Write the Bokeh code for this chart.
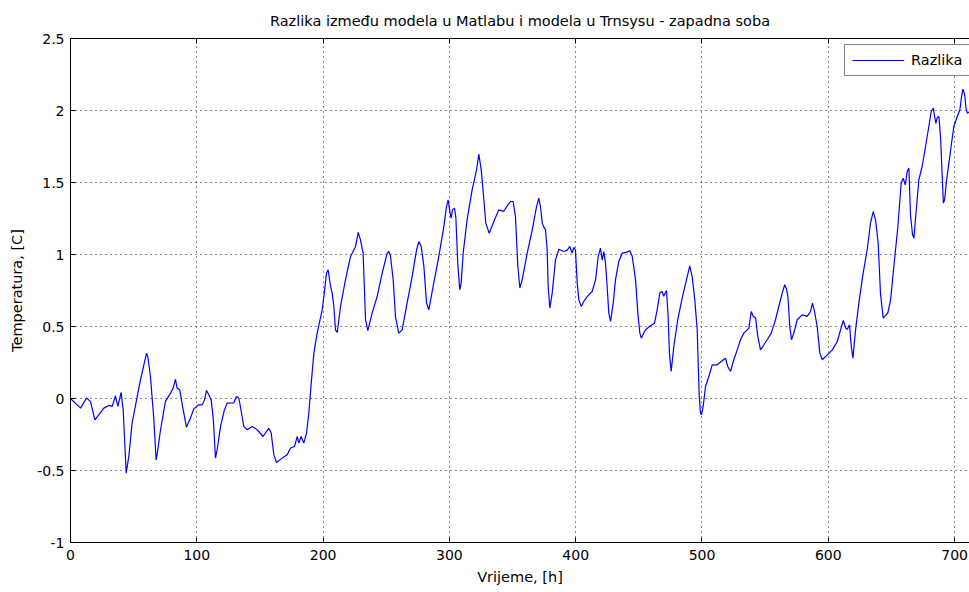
from bokeh.plotting import figure
from bokeh.models import (LinearAxis, FixedTicker, Legend, LegendItem, Range1d,
                          CustomJSTickFormatter)
from bokeh.embed import file_html
from bokeh.resources import INLINE

# Temperature difference between the Matlab and the Trnsys model (west room)
hours = [
    0, 7.9, 12.7, 15.8, 19.3, 26.4, 30.3, 33.0, 35.6, 37.5, 40.1, 41.7, 44.1, 46.2,
    48.8, 52.3, 55.4, 60.2, 61.2, 63.3, 66.0, 67.8, 68.6, 71.3, 75.2, 79.2, 81.3,
    83.1, 84.4, 86.5, 89.2, 91.8, 95.0, 97.6, 101.6, 104.2, 106.1, 107.7, 109.5,
    111.4, 113.0, 114.8, 116.1, 118.8, 121.9, 124.0, 129.3, 131.4, 133.3, 135.9,
    137.2, 139.9, 143.9, 147.8, 152.5, 157.0, 158.9, 161.0, 163.1, 167.6, 171.6,
    174.2, 177.4, 179.5, 180.8, 182.6, 184.7, 186.9, 188.7, 190.6, 192.7, 195.3,
    199.3, 200.6, 202.7, 204.0, 205.9, 207.2, 208.5, 209.8, 211.2, 213.8, 217.7,
    221.7, 225.7, 227.8, 229.6, 231.7, 233.6, 235.4, 238.8, 242.8, 246.8, 250.7,
    252.0, 253.4, 255.5, 257.3, 259.9, 262.6, 266.5, 270.5, 274.0, 275.8, 277.7,
    279.8, 281.9, 283.7, 287.6, 291.6, 295.6, 297.7, 299.0, 300.3, 301.4, 302.4,
    304.0, 305.1, 306.6, 308.2, 309.3, 310.9, 314.0, 318.0, 321.5, 323.3, 325.2,
    327.3, 328.8, 331.5, 335.2, 339.1, 343.1, 346.3, 348.4, 350.5, 352.3, 354.2,
    355.8, 357.6, 361.6, 365.6, 369.0, 370.8, 372.1, 373.5, 374.8, 376.1, 377.4,
    378.2, 379.5, 381.4, 384.0, 386.7, 390.6, 393.3, 395.3, 397.2, 398.5, 399.8,
    401.2, 402.5, 404.4, 406.4, 409.1, 413.0, 415.7, 417.8, 419.6, 421.0, 422.3,
    423.6, 424.9, 426.2, 427.6, 429.7, 431.5, 434.1, 436.8, 440.8, 442.8, 444.7,
    447.4, 449.2, 450.8, 451.9, 455.3, 459.2, 462.4, 464.5, 466.6, 468.4, 469.7,
    471.9, 473.2, 474.2, 475.6, 477.7, 480.8, 484.3, 487.7, 490.3, 492.2, 494.3,
    496.2, 497.7, 498.8, 499.6, 500.9, 502.8, 505.4, 508.1, 512.0, 515.2, 518.6,
    520.4, 522.6, 525.2, 527.9, 530.5, 533.1, 537.1, 539.0, 540.6, 542.4, 544.2,
    546.3, 549.0, 551.6, 554.8, 558.2, 560.8, 563.5, 565.5, 566.9, 568.0, 569.5,
    570.9, 572.7, 575.4, 579.3, 583.3, 585.9, 587.5, 589.1, 591.2, 593.3, 595.2,
    599.2, 603.2, 607.1, 609.7, 611.9, 613.7, 615.0, 616.8, 618.2, 619.5, 621.6,
    624.2, 627.6, 630.8, 633.4, 635.6, 637.4, 639.5, 641.3, 643.5, 647.1, 649.3,
    651.9, 655.1, 657.7, 659.3, 660.9, 662.5, 663.8, 665.1, 666.7, 667.8, 669.0,
    671.7, 674.3, 677.0, 679.6, 681.5, 683.1, 684.2, 685.2, 686.2, 687.6, 688.9,
    690.2, 691.1, 692.1, 693.7, 695.5, 697.4, 699.4, 702.1, 704.2, 705.6, 706.6,
    708.0, 709.0, 710.2, 711.5, 713.0,
]
diff = [
    0.0, -0.067, 0.003, -0.02, -0.148, -0.067, -0.048, -0.055, 0.019, -0.055, 0.042,
    -0.078, -0.518, -0.40, -0.17, -0.01, 0.13, 0.315, 0.29, 0.153, -0.148, -0.426,
    -0.39, -0.217, -0.02, 0.037, 0.072, 0.135, 0.072, 0.06, -0.078, -0.199, -0.136,
    -0.072, -0.044, -0.044, -0.01, 0.056, 0.026, -0.01, -0.136, -0.414, -0.356,
    -0.194, -0.078, -0.032, -0.03, 0.014, 0.003, -0.125, -0.194, -0.217, -0.194,
    -0.217, -0.264, -0.206, -0.24, -0.39, -0.444, -0.414, -0.39, -0.344, -0.333,
    -0.264, -0.31, -0.264, -0.31, -0.24, -0.101, 0.107, 0.315, 0.454, 0.616, 0.708,
    0.871, 0.894, 0.778, 0.732, 0.639, 0.477, 0.458, 0.639, 0.824, 0.986, 1.056,
    1.153, 1.102, 1.009, 0.547, 0.472, 0.593, 0.708, 0.871, 1.009, 1.021, 0.986,
    0.824, 0.569, 0.454, 0.477, 0.662, 0.847, 1.033, 1.09, 1.056, 0.917, 0.662,
    0.616, 0.801, 0.986, 1.194, 1.333, 1.38, 1.299, 1.252, 1.31, 1.322, 1.26, 0.94,
    0.755, 0.801, 1.009, 1.24, 1.449, 1.588, 1.697, 1.588, 1.38, 1.218, 1.148,
    1.229, 1.31, 1.30, 1.345, 1.368, 1.368, 1.264, 0.917, 0.767, 0.824, 1.009,
    1.171, 1.333, 1.392, 1.333, 1.218, 1.19, 1.171, 1.033, 0.778, 0.628, 0.732,
    0.963, 1.037, 1.021, 1.03, 1.056, 1.01, 1.05, 1.03, 0.801, 0.685, 0.639, 0.674,
    0.708, 0.743, 0.824, 0.986, 1.044, 0.96, 1.02, 0.94, 0.778, 0.593, 0.535,
    0.662, 0.824, 0.951, 1.009, 1.016, 1.028, 0.99, 0.824, 0.593, 0.454, 0.419,
    0.477, 0.505, 0.523, 0.616, 0.732, 0.743, 0.71, 0.75, 0.569, 0.315, 0.188,
    0.361, 0.547, 0.697, 0.824, 0.921, 0.847, 0.685, 0.477, 0.037, -0.101, -0.113,
    -0.056, 0.083, 0.153, 0.234, 0.234, 0.257, 0.28, 0.222, 0.188, 0.269, 0.338,
    0.408, 0.454, 0.489, 0.604, 0.569, 0.56, 0.431, 0.338, 0.373, 0.408, 0.454,
    0.547, 0.639, 0.732, 0.79, 0.76, 0.708, 0.5, 0.408, 0.454, 0.547, 0.581, 0.57,
    0.604, 0.662, 0.604, 0.5, 0.315, 0.269, 0.303, 0.338, 0.396, 0.477, 0.542,
    0.489, 0.48, 0.512, 0.361, 0.28, 0.477, 0.662, 0.871, 1.033, 1.218, 1.299,
    1.241, 1.079, 0.732, 0.558, 0.593, 0.685, 0.917, 1.194, 1.495, 1.53, 1.484,
    1.577, 1.60, 1.272, 1.137, 1.114, 1.241, 1.519, 1.611, 1.75, 1.889, 1.993,
    2.017, 1.958, 1.911, 1.95, 1.958, 1.808, 1.542, 1.357, 1.38, 1.519, 1.634,
    1.762, 1.889, 1.958, 2.005, 2.102, 2.148, 2.109, 2.017, 1.98, 1.99, 1.97,
]

x_ticks = [0, 100, 200, 300, 400, 500, 600, 700]
y_ticks = [-1, -0.5, 0, 0.5, 1, 1.5, 2, 2.5]
y_tick_labels = ["-1", "-0.5", "0", "0.5", "1", "1.5", "2", "2.5"]

FONT = "DejaVu Sans"

p = figure(width=969, height=592, output_backend="svg", toolbar_location=None,
           x_range=Range1d(0, 711.8), y_range=Range1d(-1, 2.5),
           min_border_left=70, min_border_right=0, min_border_top=38,
           min_border_bottom=50, background_fill_color="white",
           border_fill_color="white", outline_line_color=None)

line = p.line(hours, diff, line_color="#0000FF", line_width=1.2)

# title
p.title.text = "Razlika između modela u Matlabu i modela u Trnsysu - zapadna soba"
p.title.align = "center"
p.title.offset = 3
p.title.standoff = 20
p.title.text_font = FONT
p.title.text_font_size = "14.5px"
p.title.text_font_style = "normal"
p.title.text_color = "black"

# axes with inward ticks
for ax in (p.xaxis[0], p.yaxis[0]):
    ax.axis_line_color = "black"
    ax.major_tick_line_color = "black"
    ax.major_tick_in = 5
    ax.major_tick_out = 0
    ax.minor_tick_line_color = None
    ax.major_label_text_font = FONT
    ax.major_label_text_font_size = "14px"
    ax.major_label_text_color = "black"
    ax.axis_label_text_font = FONT
    ax.axis_label_text_font_size = "14.5px"
    ax.axis_label_text_font_style = "normal"
    ax.axis_label_text_color = "black"

p.xaxis.ticker = FixedTicker(ticks=x_ticks)
p.xaxis.axis_label = "Vrijeme, [h]"
p.xaxis.major_label_standoff = 7
p.xaxis.axis_label_standoff = 6

p.yaxis.ticker = FixedTicker(ticks=y_ticks)
p.yaxis.major_label_overrides = {t: s for t, s in zip(y_ticks, y_tick_labels)}
p.yaxis.axis_label = "Temperatura, [C]"
p.yaxis.major_label_standoff = 6
p.yaxis.axis_label_standoff = 9

# top edge of the axes box, ticks only
top = LinearAxis(ticker=FixedTicker(ticks=x_ticks),
                 formatter=CustomJSTickFormatter(code="return ''"),
                 axis_line_color="black", major_tick_line_color="black",
                 major_tick_in=5, major_tick_out=0, minor_tick_line_color=None,
                 major_label_standoff=0, major_label_text_font_size="1px")
p.add_layout(top, "above")

# dotted grid
p.xgrid.ticker = FixedTicker(ticks=x_ticks)
p.ygrid.ticker = FixedTicker(ticks=y_ticks)
for g in (p.xgrid[0], p.ygrid[0]):
    g.grid_line_color = "black"
    g.grid_line_alpha = 0.9
    g.grid_line_dash = "1 4"
    g.grid_line_width = 1

legend = Legend(items=[LegendItem(label="Razlika", renderers=[line])],
                location=(774, 466), orientation="vertical",
                border_line_color="black", border_line_width=1,
                background_fill_color="white", background_fill_alpha=1,
                padding=7, spacing=0, margin=0, glyph_width=52, glyph_height=16,
                label_standoff=7, label_width=80, label_text_font=FONT,
                label_text_font_size="14.5px", label_text_color="black")
p.add_layout(legend)

open("out.html", "w").write(file_html(p, INLINE))
